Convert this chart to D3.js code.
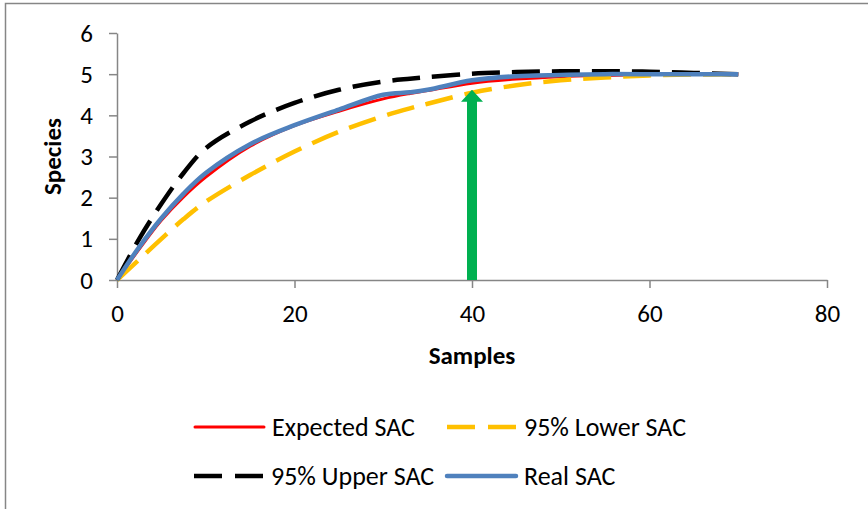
<!DOCTYPE html>
<html>
<head>
<meta charset="utf-8">
<script src="https://cdn.jsdelivr.net/npm/d3@7"></script>
<style>
  body { margin: 0; background: #fff; }
  svg { display: block; font-family: Carlito, Lato, sans-serif; }
</style>
</head>
<body>
<script>
// Sample counts where the curves were read
const samples = [0, 2.5, 5, 7.5, 10, 15, 20, 25, 30, 33, 35, 40, 45, 50, 55, 60, 65, 70];

// Species values per curve
const expectedSAC = [0, 0.75, 1.45, 2.02, 2.5, 3.25, 3.75, 4.1, 4.4, 4.53, 4.6, 4.78, 4.88, 4.94, 4.97, 4.99, 5.0, 5.0];
const lowerSAC    = [0, 0.5, 1.0, 1.48, 1.9, 2.55, 3.12, 3.6, 3.98, 4.17, 4.28, 4.55, 4.73, 4.85, 4.92, 4.97, 4.99, 5.0];
const upperSAC    = [0, 1.0, 1.85, 2.6, 3.2, 3.85, 4.3, 4.62, 4.82, 4.89, 4.93, 5.01, 5.05, 5.07, 5.07, 5.06, 5.03, 5.0];
const realSAC     = [0, 0.8, 1.5, 2.1, 2.6, 3.3, 3.76, 4.14, 4.5, 4.56, 4.62, 4.85, 4.95, 4.98, 5.0, 5.0, 5.0, 5.0];

// Arrow marking the sample size
const arrowSample = 40;
const arrowFrom = 0;
const arrowTo = 4.62;

const xTicks = [0, 20, 40, 60, 80];
const yTicks = [0, 1, 2, 3, 4, 5, 6];

const series = [
  { name: "Expected SAC", values: expectedSAC, color: "#ff0000", width: 3, dash: null },
  { name: "95% Lower SAC", values: lowerSAC, color: "#ffc000", width: 4.5, dash: "28,12" },
  { name: "95% Upper SAC", values: upperSAC, color: "#000000", width: 4.5, dash: "28,12" },
  { name: "Real SAC", values: realSAC, color: "#4f81bd", width: 4.5, dash: null }
];

const width = 868, height = 509;
const svg = d3.select("body").append("svg")
  .attr("width", width)
  .attr("height", height);

// chart frame (only top and left visible in the crop)
svg.append("rect")
  .attr("x", 5.5).attr("y", 3.5)
  .attr("width", width + 10).attr("height", height + 10)
  .attr("fill", "none")
  .attr("stroke", "#868686")
  .attr("stroke-width", 1.5);

const x = d3.scaleLinear().domain([0, 80]).range([117, 827]);
const y = d3.scaleLinear().domain([0, 6]).range([280, 33]);

// axes
const xAxis = svg.append("g")
  .attr("transform", `translate(0,${y(0)})`)
  .call(d3.axisBottom(x).tickValues(xTicks).tickSize(8).tickSizeOuter(0).tickPadding(16));

const yAxis = svg.append("g")
  .attr("transform", `translate(${x(0)},0)`)
  .call(d3.axisLeft(y).tickValues(yTicks).tickFormat(d3.format("d"))
    .tickSize(8).tickSizeOuter(0).tickPadding(16));

[xAxis, yAxis].forEach(ax => {
  ax.selectAll("path, line").attr("stroke", "#868686").attr("stroke-width", 1.5);
  ax.selectAll("text")
    .attr("fill", "#000")
    .style("font-family", "Carlito, Lato, sans-serif")
    .style("font-size", "25px");
});

// axis titles
svg.append("text")
  .attr("x", 472).attr("y", 364)
  .attr("text-anchor", "middle")
  .style("font-size", "25px").style("font-weight", "bold")
  .text("Samples");

svg.append("text")
  .attr("transform", `translate(61,${(y(0) + y(6)) / 2}) rotate(-90)`)
  .attr("text-anchor", "middle")
  .style("font-size", "25px").style("font-weight", "bold")
  .text("Species");

// curves
const line = d3.line()
  .x((d, i) => x(samples[i]))
  .y(d => y(d))
  .curve(d3.curveCatmullRom.alpha(0.5));

svg.selectAll("path.sac")
  .data(series)
  .enter()
  .append("path")
  .attr("class", "sac")
  .attr("fill", "none")
  .attr("stroke", d => d.color)
  .attr("stroke-width", d => d.width)
  .attr("stroke-dasharray", d => d.dash)
  .attr("stroke-linejoin", "round")
  .attr("d", d => line(d.values));

// green arrow
const ax0 = x(arrowSample), ayBase = y(arrowFrom), ayTip = y(arrowTo);
const shaft = 5, head = 11, headLen = 12;
svg.append("path")
  .attr("fill", "#00b050")
  .attr("d", `M${ax0 - shaft},${ayBase} L${ax0 - shaft},${ayTip + headLen} L${ax0 - head},${ayTip + headLen}
              L${ax0},${ayTip} L${ax0 + head},${ayTip + headLen} L${ax0 + shaft},${ayTip + headLen}
              L${ax0 + shaft},${ayBase} Z`);

// legend
const legendPos = [
  { lx: 195, ly: 427 },
  { lx: 447, ly: 427 },
  { lx: 194, ly: 476 },
  { lx: 447, ly: 476 }
];

const legend = svg.selectAll("g.legend")
  .data(series)
  .enter()
  .append("g")
  .attr("class", "legend")
  .attr("transform", (d, i) => `translate(${legendPos[i].lx},${legendPos[i].ly})`);

legend.append("line")
  .attr("x1", 0).attr("x2", 69)
  .attr("stroke", d => d.color)
  .attr("stroke-width", d => d.width)
  .attr("stroke-linecap", d => d.dash ? "butt" : "round")
  .attr("stroke-dasharray", d => d.dash ? "28,13" : null);

legend.append("text")
  .attr("x", 77)
  .attr("dy", "0.35em")
  .style("font-size", "26px")
  .text(d => d.name);
</script>
</body>
</html>
